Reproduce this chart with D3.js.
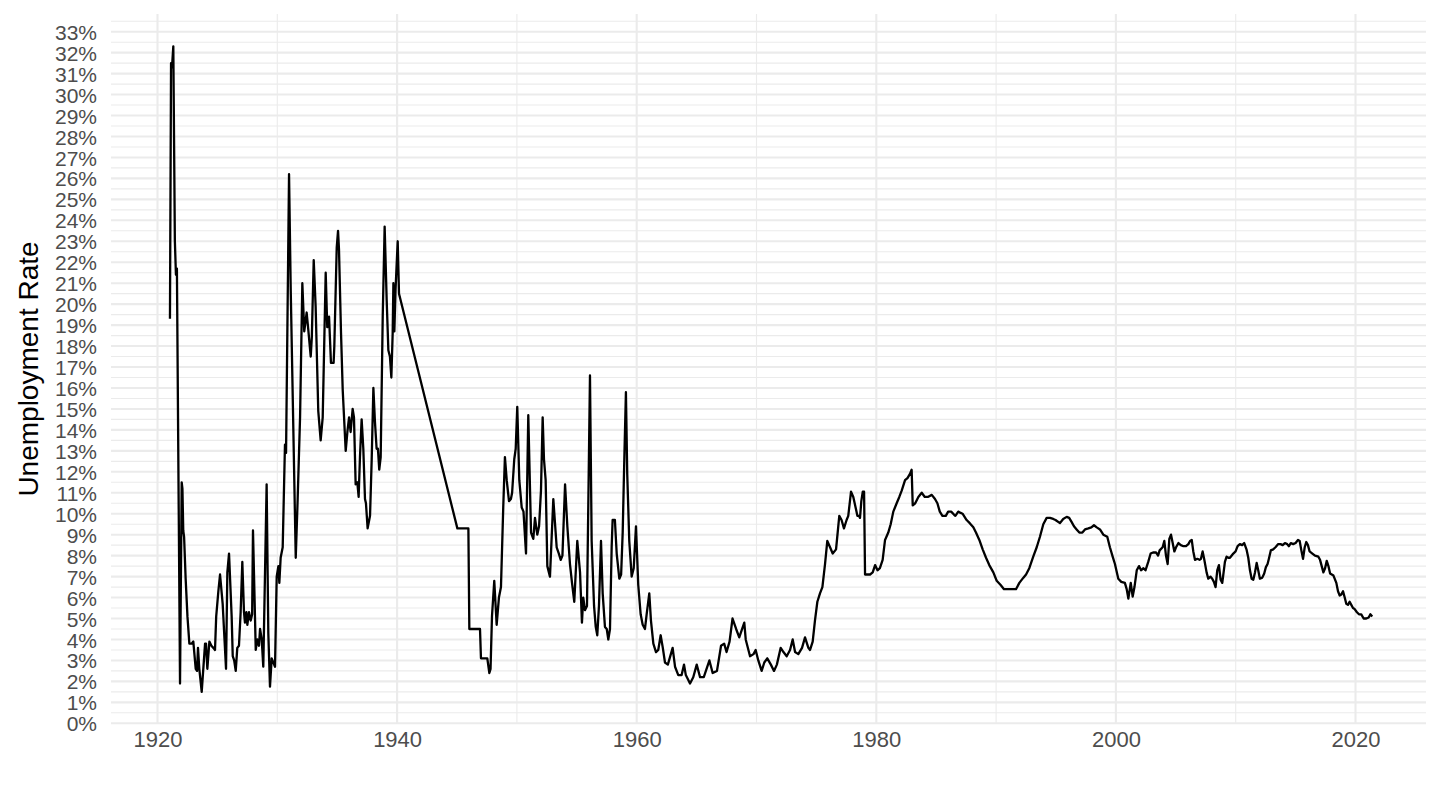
<!DOCTYPE html>
<html>
<head>
<meta charset="utf-8">
<script src="https://cdn.jsdelivr.net/npm/d3@7"></script>
<style>
  html, body { margin: 0; padding: 0; background: #fff; }
  svg { display: block; }
  text { font-family: "Liberation Sans", Arial, sans-serif; }
</style>
</head>
<body>
<svg id="chart" width="1440" height="810"></svg>
<script>
// ---- data (year as decimal, unemployment rate in %) ----
const years = [
1921.04,1921.13,1921.21,1921.32,1921.45,1921.54,1921.62,1921.88,1922.02,1922.08,1922.15,1922.22,1922.35,1922.5,1922.66,1922.85,
1922.99,1923.19,1923.3,1923.38,1923.49,1923.69,1923.97,1924.05,1924.16,1924.33,1924.5,1924.66,1924.8,1924.9,1925.08,1925.22,
1925.44,1925.72,1925.83,1925.97,1926.19,1926.28,1926.4,1926.53,1926.66,1926.8,1926.94,1927.08,1927.22,1927.3,1927.42,1927.5,
1927.64,1927.78,1927.9,1927.97,1928.08,1928.2,1928.33,1928.47,1928.56,1928.7,1928.83,1929.11,1929.25,1929.39,1929.53,1929.67,
1929.81,1929.95,1930.09,1930.17,1930.28,1930.45,1930.64,1930.73,1930.98,1931.12,1931.54,1931.7,1931.9,1932.09,1932.25,1932.45,
1932.6,1932.79,1932.88,1933.04,1933.2,1933.42,1933.62,1933.79,1934.04,1934.17,1934.32,1934.48,1934.7,1934.76,1934.96,1935.07,
1935.15,1935.32,1935.46,1935.71,1935.85,1935.99,1936.12,1936.29,1936.4,1936.54,1936.68,1936.79,1936.9,1937.04,1937.18,1937.32,
1937.4,1937.54,1937.74,1937.88,1938.02,1938.15,1938.29,1938.4,1938.51,1938.63,1938.8,1938.96,1939.13,1939.27,1939.4,1939.52,
1939.63,1939.69,1939.77,1939.87,1940.05,1940.16,1945.03,1945.95,1946.03,1946.92,1947.0,1947.53,1947.7,1947.8,1947.92,1948.11,
1948.31,1948.5,1948.67,1948.86,1949.0,1949.15,1949.34,1949.5,1949.6,1949.78,1949.9,1950.03,1950.2,1950.4,1950.55,1950.76,
1950.95,1951.18,1951.37,1951.51,1951.7,1951.85,1952.01,1952.15,1952.26,1952.4,1952.54,1952.76,1953.04,1953.32,1953.5,1953.66,
1953.8,1954.02,1954.21,1954.43,1954.6,1954.79,1955.04,1955.27,1955.43,1955.54,1955.68,1955.85,1956.1,1956.24,1956.44,1956.58,
1956.71,1956.85,1957.02,1957.16,1957.35,1957.5,1957.63,1957.77,1957.91,1957.99,1958.18,1958.33,1958.55,1958.7,1958.83,1958.97,
1959.1,1959.21,1959.38,1959.58,1959.75,1959.94,1960.13,1960.33,1960.5,1960.69,1960.83,1961.05,1961.19,1961.39,1961.61,1961.8,
1962.0,1962.18,1962.36,1962.6,1963.0,1963.2,1963.47,1963.75,1963.95,1964.1,1964.45,1964.72,1965.01,1965.29,1965.6,1966.07,
1966.34,1966.7,1967.04,1967.3,1967.5,1967.75,1968.0,1968.3,1968.56,1968.98,1969.1,1969.46,1969.75,1969.93,1970.15,1970.43,
1970.65,1970.9,1971.2,1971.46,1971.7,1972.02,1972.25,1972.52,1972.8,1973.02,1973.22,1973.49,1973.8,1974.05,1974.33,1974.47,
1974.69,1974.88,1975.08,1975.3,1975.5,1975.72,1975.91,1976.14,1976.36,1976.64,1976.91,1977.1,1977.3,1977.52,1977.66,1977.89,
1978.08,1978.31,1978.42,1978.55,1978.64,1978.75,1978.87,1978.98,1979.06,1979.3,1979.48,1979.7,1979.9,1980.1,1980.3,1980.53,
1980.73,1981.0,1981.2,1981.42,1981.7,1981.92,1982.12,1982.4,1982.6,1982.81,1982.95,1983.04,1983.25,1983.51,1983.79,1984.05,
1984.3,1984.63,1984.9,1985.1,1985.3,1985.52,1985.8,1986.0,1986.25,1986.5,1986.6,1986.84,1987.0,1987.2,1987.54,1987.8,
1988.1,1988.32,1988.6,1988.88,1989.16,1989.43,1989.77,1990.05,1990.38,1990.66,1991.2,1991.66,1991.94,1992.28,1992.5,1992.77,
1993.1,1993.39,1993.66,1993.94,1994.22,1994.5,1994.77,1994.96,1995.33,1995.6,1995.89,1996.1,1996.31,1996.5,1996.72,1996.95,
1997.2,1997.42,1997.7,1997.95,1998.17,1998.4,1998.67,1998.95,1999.28,1999.5,1999.73,1999.92,2000.2,2000.45,2000.75,2000.9,
2001.04,2001.24,2001.4,2001.55,2001.74,2001.93,2002.1,2002.3,2002.47,2002.7,2002.9,2003.1,2003.35,2003.52,2003.65,2003.9,
2004.04,2004.18,2004.32,2004.46,2004.6,2004.74,2004.88,2005.02,2005.22,2005.42,2005.64,2005.85,2006.05,2006.19,2006.33,2006.46,
2006.6,2006.8,2006.98,2007.1,2007.24,2007.38,2007.57,2007.71,2007.9,2008.04,2008.18,2008.32,2008.46,2008.6,2008.74,2008.88,
2009.1,2009.24,2009.38,2009.52,2009.8,2009.99,2010.16,2010.35,2010.54,2010.71,2010.9,2011.05,2011.19,2011.33,2011.47,2011.61,
2011.75,2011.88,2012.02,2012.22,2012.38,2012.52,2012.66,2012.77,2012.93,2013.13,2013.32,2013.55,2013.75,2013.92,2014.11,2014.3,
2014.44,2014.6,2014.8,2015.0,2015.2,2015.34,2015.48,2015.62,2015.76,2015.89,2016.03,2016.17,2016.4,2016.62,2016.9,2017.04,
2017.18,2017.32,2017.46,2017.6,2017.74,2017.88,2018.02,2018.16,2018.4,2018.54,2018.68,2018.82,2018.96,2019.1,2019.23,2019.37,
2019.51,2019.65,2019.79,2019.93,2020.12,2020.29,2020.48,2020.68,2020.9,2021.1,2021.24,2021.4
];
const rates = [
19.3,31.5,31.3,32.3,23.0,21.4,21.7,1.9,11.5,11.2,9.2,8.9,6.9,5.1,3.8,3.8,
3.9,2.6,2.5,3.6,2.6,1.5,3.8,3.8,2.6,3.9,3.7,3.6,3.5,5.1,6.3,7.1,
5.7,2.6,7.2,8.1,5.1,3.2,3.0,2.5,3.6,3.7,5.3,7.7,5.3,4.8,5.3,4.7,
5.3,4.9,5.2,9.2,6.5,3.5,4.0,3.7,4.5,4.0,2.7,11.4,4.3,1.75,3.1,2.9,
2.7,7.0,7.5,6.7,7.9,8.4,13.3,12.9,26.2,20.7,7.9,10.7,14.6,21.0,18.7,19.6,
18.7,17.5,18.4,22.1,19.9,14.9,13.5,14.6,21.5,18.9,19.4,17.2,17.2,18.0,22.7,23.5,
22.6,18.6,15.9,13.0,13.9,14.6,13.9,15.0,14.6,11.4,11.5,10.8,12.7,14.5,13.1,10.7,
10.5,9.3,9.9,12.6,16.0,14.4,13.1,13.1,12.1,12.7,19.4,23.7,20.2,17.8,17.5,16.5,
18.6,21.0,18.7,20.7,23.0,20.5,9.3,9.3,4.5,4.5,3.1,3.1,2.4,2.6,5.1,6.8,
4.7,6.0,6.5,10.3,12.7,11.6,10.6,10.7,11.0,12.6,13.1,15.1,11.6,10.3,10.1,8.1,
14.7,9.1,8.8,9.8,9.0,9.4,11.1,14.6,12.6,11.6,7.5,7.0,10.7,8.4,8.1,7.8,
8.0,11.4,9.4,7.6,6.7,5.8,8.7,7.2,4.8,6.0,5.4,5.6,16.6,8.7,5.6,4.6,
4.2,5.6,8.7,6.2,4.6,4.5,4.0,4.5,8.4,9.7,9.7,8.1,6.9,7.1,9.1,12.7,
15.8,11.9,8.7,7.0,7.4,9.4,6.6,5.2,4.7,4.5,5.2,6.2,4.9,3.8,3.4,3.5,
4.2,3.6,2.9,2.8,3.6,2.7,2.3,2.3,2.8,2.3,1.9,2.2,2.8,2.2,2.2,3.0,
2.4,2.5,3.7,3.8,3.4,3.9,5.0,4.5,4.1,4.8,4.0,3.2,3.3,3.5,3.0,2.5,
2.9,3.1,2.8,2.5,2.8,3.6,3.4,3.2,3.5,4.0,3.4,3.3,3.6,4.1,3.6,3.5,
3.9,4.9,5.8,6.2,6.5,7.6,8.7,8.4,8.1,8.3,9.9,9.7,9.3,9.7,9.9,11.05,
10.8,10.2,9.9,9.9,9.8,10.6,11.05,11.05,7.1,7.1,7.1,7.2,7.55,7.3,7.4,7.8,
8.75,9.1,9.5,10.1,10.5,10.8,11.1,11.6,11.7,11.9,12.1,10.4,10.5,10.8,11.0,10.8,
10.8,10.9,10.7,10.5,10.1,9.9,9.9,10.1,10.1,9.95,9.9,10.1,10.05,10.0,9.7,9.55,
9.35,9.1,8.75,8.3,7.9,7.55,7.2,6.8,6.6,6.4,6.4,6.4,6.7,6.95,7.1,7.4,
7.95,8.4,8.9,9.5,9.8,9.8,9.75,9.7,9.55,9.75,9.85,9.8,9.6,9.4,9.25,9.1,
9.1,9.25,9.3,9.35,9.45,9.35,9.25,9.0,8.9,8.4,7.95,7.6,6.9,6.75,6.7,6.4,
5.95,6.7,6.05,6.5,7.3,7.5,7.3,7.4,7.3,7.7,8.1,8.15,8.15,8.0,8.25,8.4,
8.7,8.0,7.6,8.8,9.0,8.6,8.2,8.4,8.6,8.5,8.45,8.45,8.55,8.7,8.75,8.2,
7.8,7.85,7.8,7.85,8.2,7.8,7.2,6.9,7.0,6.9,6.75,6.5,7.3,7.55,6.85,6.7,
7.7,7.95,7.9,7.9,8.1,8.2,8.45,8.55,8.5,8.6,8.3,7.9,7.3,6.9,6.85,7.2,
7.65,7.3,6.9,6.95,7.15,7.45,7.6,7.85,8.25,8.3,8.4,8.55,8.55,8.5,8.6,8.55,
8.45,8.6,8.55,8.6,8.75,8.7,8.25,7.85,8.4,8.65,8.5,8.2,8.1,8.0,7.95,7.8,
7.5,7.2,7.4,7.75,7.5,7.15,7.1,7.05,6.7,6.3,6.1,6.15,6.3,6.0,5.7,5.65,
5.8,5.65,5.5,5.45,5.3,5.2,5.2,5.0,5.0,5.05,5.2,5.1
];
const xMajorTicks = [1920, 1940, 1960, 1980, 2000, 2020];
const xMinorTicks = [1930, 1950, 1970, 1990, 2010];
const yTicks = d3.range(0, 34, 1);          // 0% .. 33%
const yMinorTicks = d3.range(0.5, 34, 1);   // half-percent minor grid
const yTitle = "Unemployment Rate";

// ---- layout ----
const panel = { left: 111, right: 1426, top: 14, bottom: 724 };
const svg = d3.select("#chart");

const x = d3.scaleLinear().domain([1920, 2020]).range([157.5, 1355.5]);
const y = d3.scaleLinear().domain([0, 33]).range([723.3, 31.7]);

const data = years.map((yr, i) => ({ year: yr, rate: rates[i] }));

// grid
const grid = svg.append("g");
grid.selectAll("line.hmin").data(yMinorTicks).enter().append("line")
  .attr("x1", panel.left).attr("x2", panel.right)
  .attr("y1", d => y(d)).attr("y2", d => y(d))
  .attr("stroke", "#EBEBEB").attr("stroke-width", 1.1);
grid.selectAll("line.vmin").data(xMinorTicks).enter().append("line")
  .attr("x1", d => x(d)).attr("x2", d => x(d))
  .attr("y1", panel.top).attr("y2", panel.bottom)
  .attr("stroke", "#EBEBEB").attr("stroke-width", 1.1);
grid.selectAll("line.hmaj").data(yTicks).enter().append("line")
  .attr("x1", panel.left).attr("x2", panel.right)
  .attr("y1", d => y(d)).attr("y2", d => y(d))
  .attr("stroke", "#EBEBEB").attr("stroke-width", 2.1);
grid.selectAll("line.vmaj").data(xMajorTicks).enter().append("line")
  .attr("x1", d => x(d)).attr("x2", d => x(d))
  .attr("y1", panel.top).attr("y2", panel.bottom)
  .attr("stroke", "#EBEBEB").attr("stroke-width", 2.1);

// line
const line = d3.line().x(d => x(d.year)).y(d => y(d.rate));
svg.append("path").datum(data)
  .attr("d", line)
  .attr("fill", "none")
  .attr("stroke", "#000")
  .attr("stroke-width", 2.3)
  .attr("stroke-linejoin", "round");

// y axis labels
const yAxis = d3.axisLeft(y).tickValues(yTicks).tickSize(0).tickPadding(0)
  .tickFormat(d => d + "%");
const gy = svg.append("g").attr("transform", `translate(${97},0)`).call(yAxis);
gy.select(".domain").remove();
gy.selectAll("text").attr("fill", "#4D4D4D").style("font-size", "21px")
  .attr("x", 0).attr("dy", "0.36em");

// x axis labels
const xAxis = d3.axisBottom(x).tickValues(xMajorTicks).tickSize(0).tickPadding(0)
  .tickFormat(d3.format("d"));
const gx = svg.append("g").attr("transform", `translate(0,${731})`).call(xAxis);
gx.select(".domain").remove();
gx.selectAll("text").attr("fill", "#4D4D4D").style("font-size", "22px")
  .attr("y", 0).attr("dy", "0.71em");

// y title
svg.append("text")
  .attr("transform", `translate(28,${(panel.top + panel.bottom) / 2}) rotate(-90)`)
  .attr("text-anchor", "middle")
  .attr("dy", "0.36em")
  .attr("fill", "#000")
  .style("font-size", "28px")
  .text(yTitle);
</script>
</body>
</html>
